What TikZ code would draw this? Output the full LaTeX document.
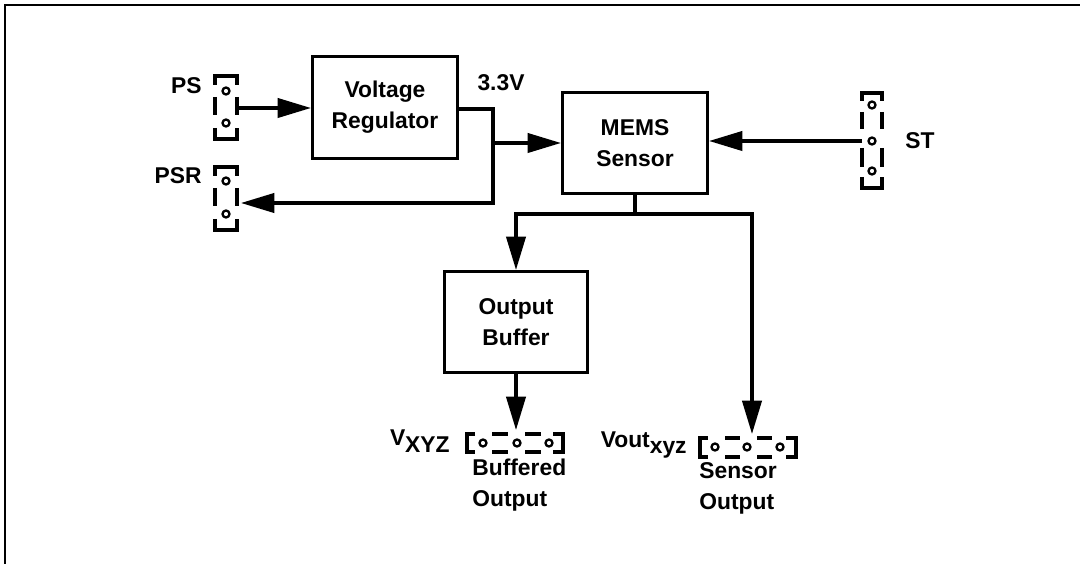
\documentclass[tikz,border=0pt]{standalone}
\usepackage{fontspec}
\setmainfont{Liberation Sans}
\usetikzlibrary{arrows.meta}

\begin{document}
\begin{tikzpicture}[x=0.02cm, y=-0.02cm, line width=1.8pt,
  every node/.style={font=\fontsize{13}{17.5}\selectfont\bfseries},
  block/.style={draw, rectangle, line width=1.8pt, align=center, inner sep=0pt},
  lbl/.style={inner sep=1pt, align=left},
  pin/.style={line width=1.3pt},
  arr/.style={-{Triangle[length=19pt, width=11pt]}}]
\useasboundingbox (0,0) rectangle (1080,564);
\draw[line width=1.5pt] (5,564) -- (5,5) -- (1080,5);

\node[block, minimum width=2.9cm, minimum height=2.04cm] (vr) at (385,107.5) {Voltage\\Regulator};
\node[block, minimum width=2.9cm, minimum height=2.02cm] (mems) at (635,143) {MEMS\\Sensor};
\node[block, minimum width=2.86cm, minimum height=2.02cm] (buf) at (516,322) {Output\\Buffer};

\draw (215,85) |- (237,76) -- (237,85);
\draw (215,97) -- (215,115);
\draw (237,97) -- (237,115);
\draw (215,128) |- (237,139) -- (237,128);
\draw[pin] (226,91) circle (3.5);
\draw[pin] (226,123) circle (3.5);

\draw (215,176) |- (237,167) -- (237,176);
\draw (215,188) -- (215,206);
\draw (237,188) -- (237,206);
\draw (215,219) |- (237,230) -- (237,219);
\draw[pin] (226,181) circle (3.5);
\draw[pin] (226,214) circle (3.5);

\draw (862,101) |- (882,93) -- (882,101);
\draw (862,112) -- (862,129);
\draw (882,112) -- (882,129);
\draw (862,148) -- (862,167);
\draw (882,148) -- (882,167);
\draw (862,177) |- (882,188) -- (882,177);
\draw[pin] (872,105) circle (3.5);
\draw[pin] (872,141) circle (3.5);
\draw[pin] (872,171) circle (3.5);

\draw (475,434) -| (467,452) -- (475,452);
\draw (492,434) -- (508,434);
\draw (525,434) -- (541,434);
\draw (492,452) -- (508,452);
\draw (525,452) -- (541,452);
\draw (553,434) -| (563,452) -- (553,452);
\draw[pin] (483,443) circle (3.5);
\draw[pin] (517,443) circle (3.5);
\draw[pin] (549,443) circle (3.5);

\draw (708,438) -| (700,457) -- (708,457);
\draw (725,438) -- (740,438);
\draw (757,438) -- (772,438);
\draw (725,457) -- (740,457);
\draw (757,457) -- (772,457);
\draw (786,438) -| (796,457) -- (786,457);
\draw[pin] (715,447) circle (3.5);
\draw[pin] (747,447) circle (3.5);
\draw[pin] (780,447) circle (3.5);

\coordinate (ps) at (237,108);
\coordinate (psr) at (241,203);
\coordinate (j) at (493,143);
\coordinate (st) at (862,141);
\coordinate (bus) at (635,214);
\coordinate (bufout) at (516,430);
\coordinate (senout) at (752,434);

\draw[arr] (ps) -- (ps -| vr.west);
\draw[arr] (vr.east |- 0,109) -| (psr -| j) -- (psr);
\draw[arr] (j) -- (mems.west);
\draw[arr] (st) -- (st -| mems.east);
\draw[arr] (mems.south) -- (bus) -| (buf.north);
\draw[arr] (bus) -| (senout);
\draw[arr] (buf.south) -- (bufout);

\node[lbl, anchor=east] (pslbl) at (205,86) {PS};
\node[lbl, anchor=east] (psrlbl) at (205,176) {PSR};
\node[lbl] (vlbl) at (501,83) {3.3V};
\node[lbl, anchor=west] (stlbl) at (902,141) {ST};
\node[lbl, anchor=east] (vxyz) at (453,441) {V\raisebox{-.55ex}{XYZ}};
\node[lbl, anchor=east] (voutxyz) at (690,445) {Vout\raisebox{-.55ex}{xyz}};
\node[lbl, anchor=north west] (bufflbl) at (469,456) {Buffered\\Output};
\node[lbl, anchor=north west] (senlbl) at (696,459) {Sensor\\Output};

\end{tikzpicture}
\end{document}
